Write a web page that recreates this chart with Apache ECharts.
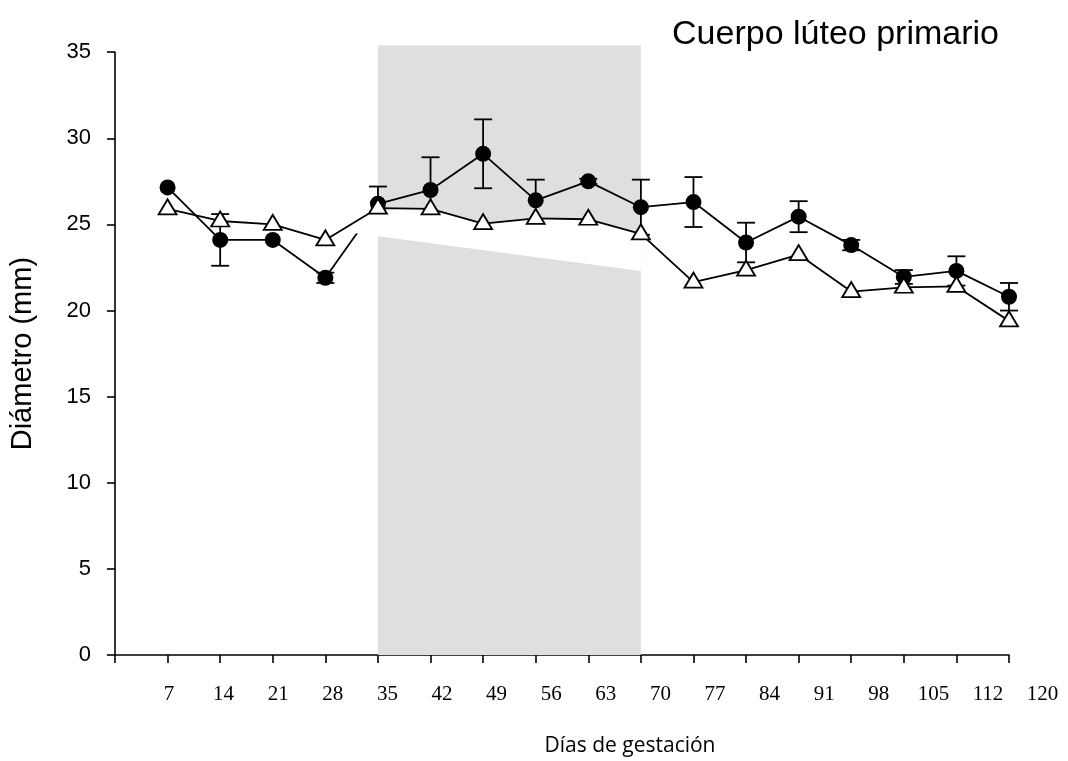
<!DOCTYPE html>
<html>
<head>
<meta charset="utf-8">
<script src="https://cdn.jsdelivr.net/npm/echarts@6/dist/echarts.min.js"></script>
<style>
  html, body { margin: 0; padding: 0; background: #fff; }
  #chart { width: 1068px; height: 761px; }
</style>
</head>
<body>
<div id="chart"></div>
<script>
// ---- data ----
const days = [7, 14, 21, 28, 35, 42, 49, 56, 63, 70, 77, 84, 91, 98, 105, 112, 119];
const circleMean = [27.15, 24.1, 24.1, 21.9, 26.2, 27.0, 29.1, 26.4, 27.5, 26.0, 26.3, 23.95, 25.45, 23.8, 21.95, 22.3, 20.8];
const circleErr  = [0, 1.5, 0, 0.3, 1.0, 1.9, 2.0, 1.2, 0.15, 1.6, 1.45, 1.15, 0.9, 0.3, 0.4, 0.85, 0.8];
const triangleMean = [25.9, 25.2, 25.0, 24.1, 25.95, 25.9, 25.05, 25.35, 25.3, 24.45, 21.65, 22.35, 23.25, 21.1, 21.35, 21.4, 19.4];
const tickLabels = ['7', '14', '21', '28', '35', '42', '49', '56', '63', '70', '77', '84', '91', '98', '105', '112', '120'];
const shadedDays = [35, 70];
const shadeTop = 35.4;
const gapEdge = [[31.5, 24.51], [70, 22.29]];

const chart = echarts.init(document.getElementById('chart'), null, { renderer: 'canvas' });

const circleData = days.map((d, i) => [d, circleMean[i]]);
const triangleData = days.map((d, i) => [d, triangleMean[i]]);
const errData = days.map((d, i) => [d, circleMean[i], circleErr[i]]);

const option = {
  backgroundColor: '#fff',
  animation: false,
  title: [
    {
      text: 'Cuerpo lúteo primario',
      right: 64, top: 13,
      textStyle: { fontFamily: 'Liberation Sans', fontSize: 34, fontWeight: 'normal', color: '#000' }
    },
    {
      text: 'Días de gestación',
      left: 625, textAlign: 'center', top: 731,
      textStyle: { fontFamily: 'Open Sans', fontSize: 21, fontWeight: 'normal', color: '#000' }
    }
  ],
  grid: [
    { left: 113.3, right: 59, top: 52.2, bottom: 106 },
    { left: 114.4, right: 25.4, top: 52.2, bottom: 106 }
  ],
  xAxis: [
    {
      type: 'value', gridIndex: 0, min: 0, max: 119, interval: 7,
      axisLine: { show: true, lineStyle: { color: '#000', width: 1.6 } },
      axisTick: { show: true, inside: false, length: 8, lineStyle: { color: '#000', width: 1.6 } },
      axisLabel: { show: false },
      splitLine: { show: false }
    },
    {
      type: 'category', gridIndex: 1, boundaryGap: false,
      data: [''].concat(tickLabels),
      axisLine: { show: false }, axisTick: { show: false },
      axisLabel: { show: true, interval: 0, margin: 29, fontFamily: 'Liberation Serif', fontSize: 21, color: '#000' },
      splitLine: { show: false }
    }
  ],
  yAxis: [
    {
      type: 'value', gridIndex: 0, min: 0, max: 35, interval: 5,
      name: 'Diámetro (mm)', nameLocation: 'middle', nameRotate: 90, nameGap: 78,
      nameTextStyle: { fontFamily: 'Liberation Sans', fontSize: 29, color: '#000' },
      axisLine: { show: true, lineStyle: { color: '#000', width: 1.6 } },
      axisTick: { show: true, inside: false, length: 8, lineStyle: { color: '#000', width: 1.6 } },
      axisLabel: { show: true, margin: 24, fontFamily: 'Liberation Sans', fontSize: 22, color: '#000' },
      splitLine: { show: false }
    },
    { type: 'value', gridIndex: 1, min: 0, max: 1, show: false }
  ],
  series: [
    {
      // shaded gestational window
      type: 'custom', xAxisIndex: 0, yAxisIndex: 0, z: 1, clip: false, silent: true,
      data: [[shadedDays[0], shadedDays[1]]],
      renderItem: function (params, api) {
        const p1 = api.coord([shadedDays[0], shadeTop]);
        const p2 = api.coord([shadedDays[1], 0]);
        return { type: 'rect', shape: { x: p1[0], y: p1[1], width: p2[0] - p1[0], height: p2[1] - p1[1] }, style: { fill: '#dfdfdf' } };
      }
    },
    {
      type: 'line', name: 'circle', xAxisIndex: 0, yAxisIndex: 0, z: 2,
      data: circleData,
      symbol: 'circle', symbolSize: 16,
      lineStyle: { color: '#000', width: 1.8 },
      itemStyle: { color: '#000', borderColor: '#000', borderWidth: 0 }
    },
    {
      type: 'custom', name: 'err', xAxisIndex: 0, yAxisIndex: 0, z: 2, clip: false,
      data: errData,
      renderItem: function (params, api) {
        const x = api.value(0), m = api.value(1), e = api.value(2);
        if (!e) return null;
        const top = api.coord([x, m + e]);
        const bot = api.coord([x, m - e]);
        const hw = 9;
        const st = { stroke: '#000', lineWidth: 1.8 };
        return {
          type: 'group',
          children: [
            { type: 'line', shape: { x1: top[0], y1: top[1], x2: bot[0], y2: bot[1] }, style: st },
            { type: 'line', shape: { x1: top[0] - hw, y1: top[1], x2: top[0] + hw, y2: top[1] }, style: st },
            { type: 'line', shape: { x1: bot[0] - hw, y1: bot[1], x2: bot[0] + hw, y2: bot[1] }, style: st }
          ]
        };
      }
    },
    {
      // white gap inside the shaded window
      type: 'custom', xAxisIndex: 0, yAxisIndex: 0, z: 3, clip: false, silent: true,
      data: [[0]],
      renderItem: function (params, api) {
        const pts = [api.coord(gapEdge[0]), api.coord(gapEdge[1])];
        for (let i = days.length - 1; i >= 0; i--) {
          if (days[i] >= 28 && days[i] <= gapEdge[1][0]) {
            pts.push(api.coord([days[i], triangleMean[i]]));
          }
        }
        return { type: 'polygon', shape: { points: pts }, style: { fill: '#fff' } };
      }
    },
    {
      type: 'line', name: 'triangle', xAxisIndex: 0, yAxisIndex: 0, z: 4,
      data: triangleData,
      symbol: 'triangle', symbolSize: [18, 15], symbolOffset: [0, -2],
      lineStyle: { color: '#000', width: 1.8 },
      itemStyle: { color: '#fff', borderColor: '#000', borderWidth: 1.8 }
    }
  ]
};
chart.setOption(option);
</script>
</body>
</html>
